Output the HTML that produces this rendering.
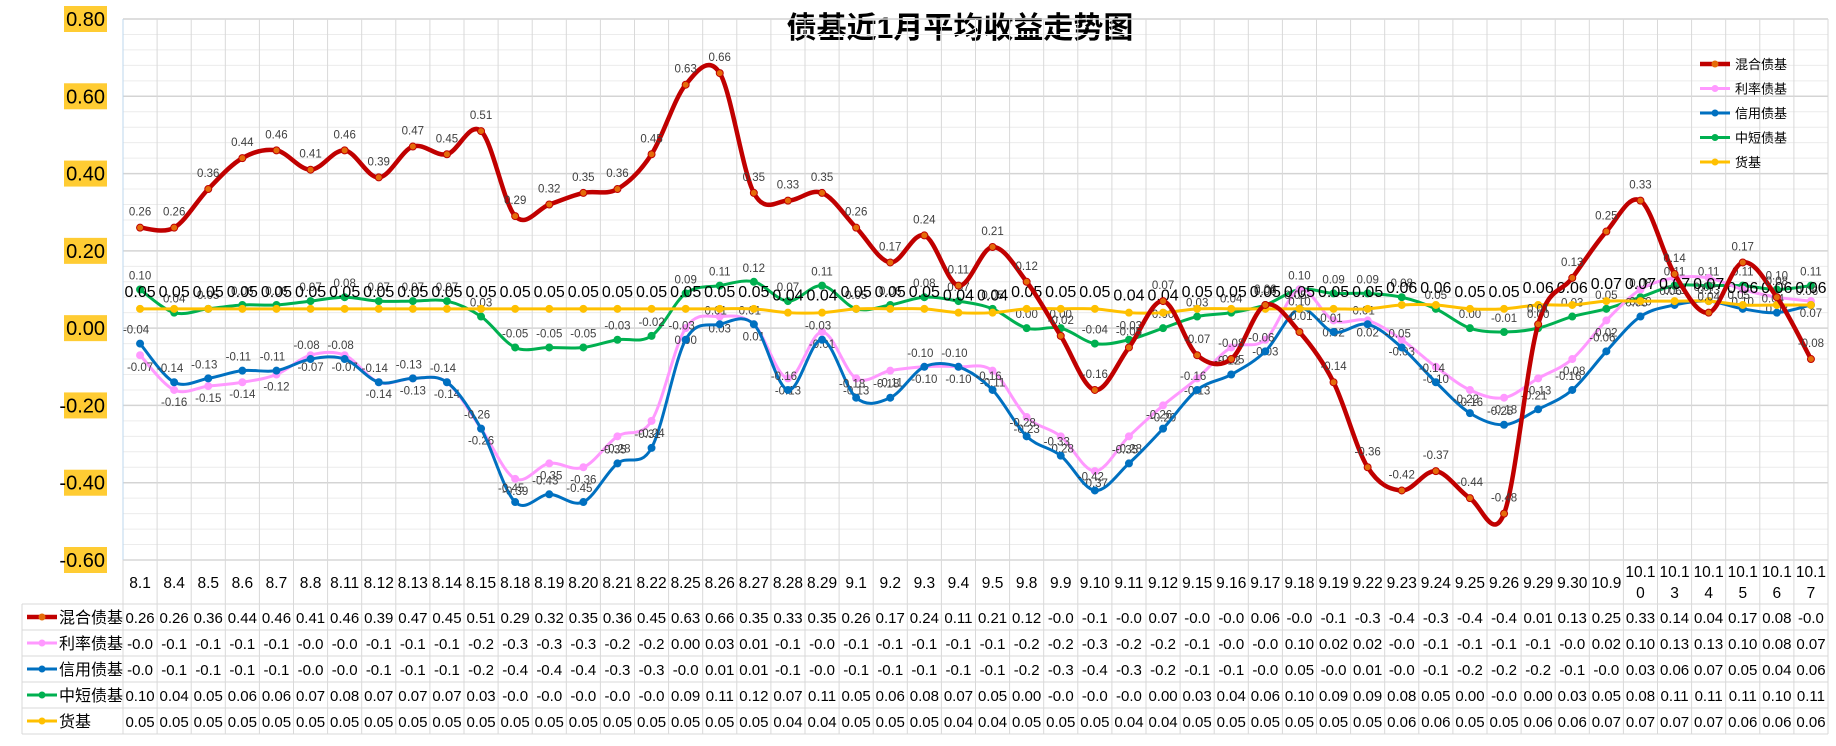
<!DOCTYPE html>
<html><head><meta charset="utf-8">
<style>
html,body{margin:0;padding:0;background:#fff;}
body{width:1836px;height:741px;overflow:hidden;font-family:"Liberation Sans","Noto Sans CJK SC",sans-serif;}
svg text{font-family:"Liberation Sans","Noto Sans CJK SC",sans-serif;}
</style></head>
<body>
<svg id="chart" width="1836" height="741" xmlns="http://www.w3.org/2000/svg"></svg>
<script>
const categories=["8.1","8.4","8.5","8.6","8.7","8.8","8.11","8.12","8.13","8.14","8.15","8.18","8.19","8.20","8.21","8.22","8.25","8.26","8.27","8.28","8.29","9.1","9.2","9.3","9.4","9.5","9.8","9.9","9.10","9.11","9.12","9.15","9.16","9.17","9.18","9.19","9.22","9.23","9.24","9.25","9.26","9.29","9.30","10.9","10.10","10.13","10.14","10.15","10.16","10.17"];
const mixedValues=[0.26,0.26,0.36,0.44,0.46,0.41,0.46,0.39,0.47,0.45,0.51,0.29,0.32,0.35,0.36,0.45,0.63,0.66,0.35,0.33,0.35,0.26,0.17,0.24,0.11,0.21,0.12,-0.02,-0.16,-0.05,0.07,-0.07,-0.08,0.06,-0.01,-0.14,-0.36,-0.42,-0.37,-0.44,-0.48,0.01,0.13,0.25,0.33,0.14,0.04,0.17,0.08,-0.08];
const rateValues=[-0.07,-0.16,-0.15,-0.14,-0.12,-0.07,-0.07,-0.14,-0.13,-0.14,-0.26,-0.39,-0.35,-0.36,-0.28,-0.24,0.00,0.03,0.01,-0.13,-0.01,-0.13,-0.11,-0.10,-0.10,-0.11,-0.23,-0.28,-0.37,-0.28,-0.20,-0.13,-0.05,-0.03,0.10,0.02,0.02,-0.03,-0.10,-0.16,-0.18,-0.13,-0.08,0.02,0.10,0.13,0.13,0.10,0.08,0.07];
const creditValues=[-0.04,-0.14,-0.13,-0.11,-0.11,-0.08,-0.08,-0.14,-0.13,-0.14,-0.26,-0.45,-0.43,-0.45,-0.35,-0.31,-0.03,0.01,0.01,-0.16,-0.03,-0.18,-0.18,-0.10,-0.10,-0.16,-0.28,-0.33,-0.42,-0.35,-0.26,-0.16,-0.12,-0.06,0.05,-0.01,0.01,-0.05,-0.14,-0.22,-0.25,-0.21,-0.16,-0.06,0.03,0.06,0.07,0.05,0.04,0.06];
const shortValues=[0.10,0.04,0.05,0.06,0.06,0.07,0.08,0.07,0.07,0.07,0.03,-0.05,-0.05,-0.05,-0.03,-0.02,0.09,0.11,0.12,0.07,0.11,0.05,0.06,0.08,0.07,0.05,0.00,-0.00,-0.04,-0.03,0.00,0.03,0.04,0.06,0.10,0.09,0.09,0.08,0.05,0.00,-0.01,0.00,0.03,0.05,0.08,0.11,0.11,0.11,0.10,0.11];
const moneyValues=[0.05,0.05,0.05,0.05,0.05,0.05,0.05,0.05,0.05,0.05,0.05,0.05,0.05,0.05,0.05,0.05,0.05,0.05,0.05,0.04,0.04,0.05,0.05,0.05,0.04,0.04,0.05,0.05,0.05,0.04,0.04,0.05,0.05,0.05,0.05,0.05,0.05,0.06,0.06,0.05,0.05,0.06,0.06,0.07,0.07,0.07,0.07,0.06,0.06,0.06];
const yTicks=[0.8,0.6,0.4,0.2,0,-0.2,-0.4,-0.6];
const seriesNames=["混合债基","利率债基","信用债基","中短债基","货基"];

const NS="http://www.w3.org/2000/svg";
const svg=document.getElementById('chart');
const L=123,R=1828,T=19,B=560,yMin=-0.6,yMax=0.8;
const colW=(R-L)/categories.length;
const xS=i=>L+colW*(i+0.5);
const yS=v=>B-(v-yMin)/(yMax-yMin)*(B-T);
function mk(tag,attrs,parent){const e=document.createElementNS(NS,tag);for(const k in attrs)e.setAttribute(k,attrs[k]);(parent||svg).appendChild(e);return e;}
function txt(s,attrs,parent){const e=mk('text',attrs,parent);e.textContent=s;return e;}

const title=txt("债基近1月平均收益走势图",{x:960,y:38,'text-anchor':'middle','font-size':30,'font-weight':'bold',fill:'#000'});



const grid=mk('g',{});


for(let v=yMin;v<=yMax+1e-9;v+=0.04){
  const major=Math.abs(Math.round(v*100)%20)===0;
  mk('line',{x1:L,x2:R,y1:yS(v),y2:yS(v),stroke:major?'#d4d4d4':'#ececec','stroke-width':major?1.5:1},grid);
}
for(let i=0;i<=categories.length;i++){
  const x=L+colW*i;
  mk('line',{x1:x,x2:x,y1:T,y2:734,stroke:'#d9d9d9','stroke-width':1},grid);
}
mk('line',{x1:L,x2:L,y1:T,y2:B,stroke:'#bdd7ee','stroke-width':1},grid);
const rowTops=[604,630,656,682,708,734];
mk('line',{x1:L,x2:R,y1:B,y2:B,stroke:'#d9d9d9'},grid);
rowTops.forEach(y=>mk('line',{x1:22,x2:R,y1:y,y2:y,stroke:'#d9d9d9'},grid));
mk('line',{x1:22,x2:22,y1:604,y2:734,stroke:'#d9d9d9'},grid);

const yAxis=mk('g',{});


yTicks.forEach(v=>{
  const y=yS(v);
  mk('rect',{x:64,y:y-13,width:43,height:26,fill:'#FFCC33'},yAxis);
  const t=txt(v.toFixed(2),{x:105,y:y+7,'text-anchor':'end','font-size':20,fill:'#000'},yAxis);
  
  
});

const xAxis=mk('g',{});


categories.forEach((c,i)=>{
  if(c.length>4){
    txt(c.slice(0,4),{x:xS(i),y:577,'text-anchor':'middle','font-size':15.5,fill:'#000'},xAxis);
    txt(c.slice(4),{x:xS(i),y:598,'text-anchor':'middle','font-size':15.5,fill:'#000'},xAxis);
  } else txt(c,{x:xS(i),y:588,'text-anchor':'middle','font-size':15.5,fill:'#000'},xAxis);
});

function smoothPath(vals){
  const p=vals.map((v,i)=>[xS(i),yS(v)]);
  let d=`M${p[0][0]},${p[0][1]}`;
  for(let i=0;i<p.length-1;i++){
    const p0=p[Math.max(0,i-1)],p1=p[i],p2=p[i+1],p3=p[Math.min(p.length-1,i+2)];
    const c1=[p1[0]+(p2[0]-p0[0])/6,p1[1]+(p2[1]-p0[1])/6];
    const c2=[p2[0]-(p3[0]-p1[0])/6,p2[1]-(p3[1]-p1[1])/6];
    d+=`C${c1[0]},${c1[1]} ${c2[0]},${c2[1]} ${p2[0]},${p2[1]}`;
  }
  return d;
}
const seriesData=[mixedValues,rateValues,creditValues,shortValues,moneyValues];
const colors=['#C00000','#FF99FF','#0070C0','#00B050','#FFC000'];
const widths=[4.5,3,3,3,3];
const keys=['mixed','rate','credit','short','money'];
const labelDy=[-12,16,-10,-10,-12];
const labelSize=[11.5,11.5,11.5,11.5,16];
const labelColor=['#404040','#404040','#404040','#404040','#000'];

[3,1,2,4,0].forEach(s=>{
  const g=mk('g',{});
  
  
  mk('path',{d:smoothPath(seriesData[s]),fill:'none',stroke:colors[s],'stroke-width':widths[s]},g);
  seriesData[s].forEach((v,i)=>{
    const c=mk('circle',{cx:xS(i),cy:yS(v),r:3.5,fill:s===0?'#E46C0A':colors[s],stroke:colors[s]},g);
    
    
    const t=txt(v.toFixed(2),{x:xS(i)+(s===2?-4:0),y:yS(v)+labelDy[s],'text-anchor':'middle','font-size':labelSize[s],fill:labelColor[s]},g);
    
    
  });
});

const legend=mk('g',{});


seriesNames.forEach((n,s)=>{
  const y=64+s*24.5;
  const item=mk('g',{},legend);
  
  
  mk('line',{x1:1700,x2:1730,y1:y,y2:y,stroke:colors[s],'stroke-width':widths[s]},item);
  mk('circle',{cx:1715,cy:y,r:3.5,fill:s===0?'#E46C0A':colors[s]},item);
  txt(n,{x:1735,y:y+5,'font-size':13,fill:'#000'},item);
});

const table=mk('g',{});


function fmt(v){if(v<0||Object.is(v,-0)){const t=Math.trunc(v*10)/10;return '-'+Math.abs(t).toFixed(1);}return v.toFixed(2);}
seriesNames.forEach((n,s)=>{
  const yc=rowTops[s]+13;
  mk('line',{x1:27,x2:57,y1:yc,y2:yc,stroke:colors[s],'stroke-width':widths[s]},table);
  mk('circle',{cx:42,cy:yc,r:3.5,fill:s===0?'#E46C0A':colors[s]},table);
  const h=txt(n,{x:59,y:yc+6,'font-size':16,fill:'#000'},table);
  
  
  seriesData[s].forEach((v,i)=>{
    txt(fmt(v),{x:xS(i),y:yc+6,'text-anchor':'middle','font-size':15,fill:'#000'},table);
  });
});
</script>
</body></html>
